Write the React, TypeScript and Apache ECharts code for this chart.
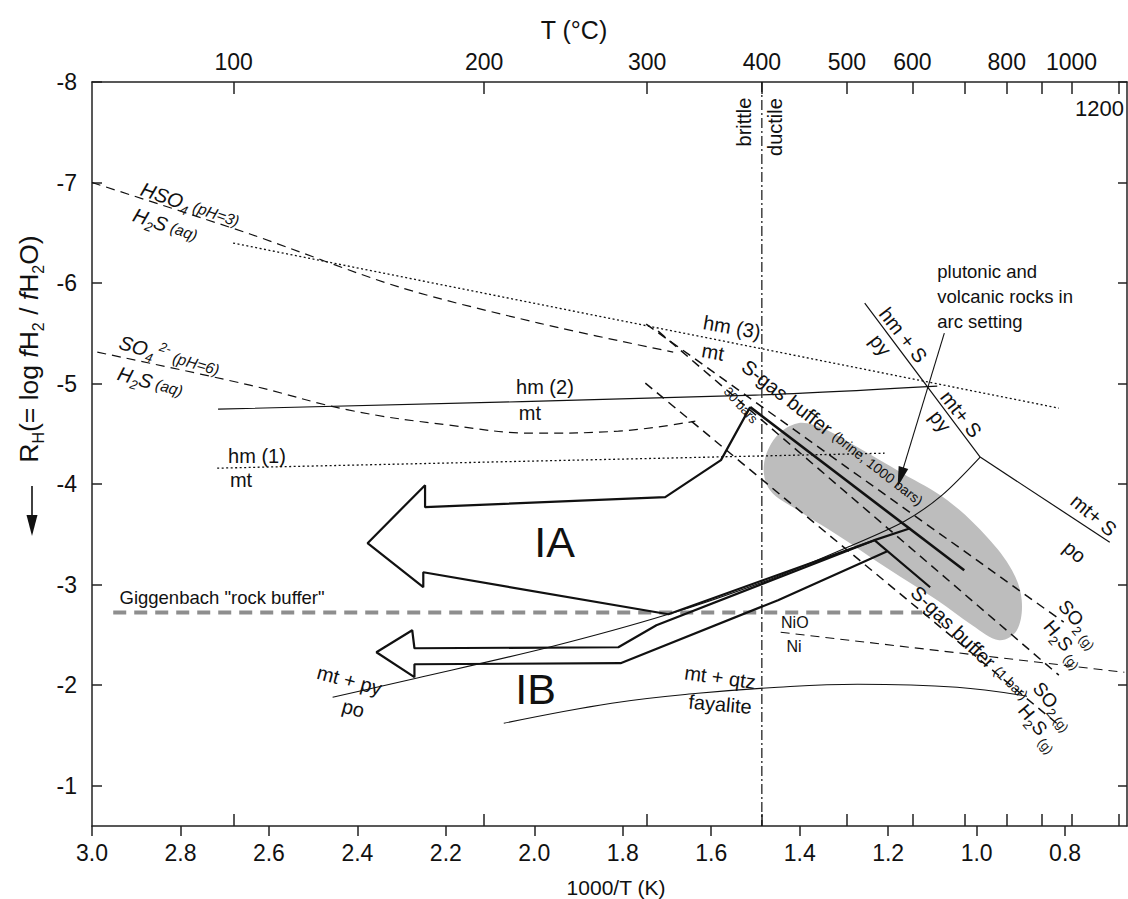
import React, { useEffect, useRef } from 'react';
import * as echarts from 'echarts';

// ---------- axes ----------
const X_MIN = 0.66;
const X_MAX = 3.0;
const Y_MIN = -8;
const Y_MAX = -0.6;
const invTLabels = [0.8, 1.0, 1.2, 1.4, 1.6, 1.8, 2.0, 2.2, 2.4, 2.6, 2.8, 3.0];
const rhTicks = [-8, -7, -6, -5, -4, -3, -2, -1];
const tempTicks = [100, 200, 300, 400, 500, 600, 700, 800, 900, 1000, 1200];
const tempLabels = [100, 200, 300, 400, 500, 600, 800, 1000];
const brittleDuctileT = 400;

// ---------- curves (x = 1000/T(K), y = RH) ----------
const hso4Ph3 = [[3.0, -7.0], [2.643, -6.488], [2.305, -5.96], [1.99, -5.602], [1.686, -5.313]];
const hm3Mt = [[2.681, -6.398], [0.814, -4.756]];
const so4Ph6 = [[2.988, -5.313], [2.643, -4.985], [2.418, -4.736], [2.193, -4.587], [1.997, -4.507], [1.81, -4.527], [1.636, -4.627]];
const hm2Mt = [[2.715, -4.746], [1.501, -4.886], [1.089, -4.975]];
const hm1Mt = [[2.717, -4.159], [1.208, -4.308]];
const mtPyPo = [[2.456, -1.881], [2.267, -2.07], [1.967, -2.378], [1.697, -2.706], [1.472, -3.045], [1.292, -3.373], [1.163, -3.632], [1.078, -3.891], [0.992, -4.269]];
const hmSPy = [[1.253, -5.801], [0.992, -4.269]];
const mtSPo = [[0.992, -4.269], [0.699, -3.423]];
const giggenbach = [[2.952, -2.723], [1.123, -2.723]];
const nioNi = [[1.443, -2.527], [0.666, -2.129]];
const mtQtzFa = [[2.069, -1.622], [1.825, -1.821], [1.63, -1.92], [1.449, -1.98], [1.269, -2.01], [1.044, -1.98], [0.886, -1.891]];
const pathIA = [[1.15, -3.562], [1.231, -3.443], [1.697, -2.706], [2.251, -3.124], [2.251, -2.975], [2.377, -3.413], [2.247, -3.99], [2.247, -3.771], [1.704, -3.871], [1.578, -4.239], [1.512, -4.766]];
const pathIB = [[1.105, -2.975], [1.231, -3.443], [1.724, -2.597], [1.81, -2.378], [2.271, -2.368], [2.276, -2.547], [2.357, -2.328], [2.271, -2.08], [2.271, -2.209], [1.805, -2.219], [1.449, -2.846], [1.202, -3.333]];
const brineSolid = [[1.512, -4.766], [1.028, -3.144]];
const sgasBrine1000 = [[1.747, -5.592], [0.803, -2.627]];
const sgasBrine30 = [[1.72, -5.522], [0.814, -2.1]];
const sgas1bar = [[1.749, -5.005], [0.819, -1.622]];
const arcField = [[1.404, -4.607], [1.454, -4.468], [1.481, -4.189], [1.467, -3.94], [1.404, -3.741], [1.314, -3.493], [1.202, -3.164], [1.089, -2.846], [1.01, -2.597], [0.949, -2.448], [0.909, -2.547], [0.898, -2.846], [0.92, -3.144], [0.976, -3.473], [1.066, -3.841], [1.168, -4.109], [1.269, -4.368], [1.348, -4.557]];
const arcPointer = [[1.073, -5.502], [1.172, -4.07]];

// ---------- annotations: [x, y, rotationDeg, text, fontSize, align] ----------
const annotations: any[] = [
  [2.778, -6.776, -19, '{i|HSO}{isub|4}{sm| (pH=3)}', 20],
  [2.834, -6.577, -19, '{i|H}{isub|2}{i|S}{sm| (aq)}', 20],
  [2.825, -5.274, -16, '{i|SO}{isub|4}{sup| 2-}{sm| (pH=6)}', 20],
  [2.868, -5.015, -16, '{i|H}{isub|2}{i|S}{sm| (aq)}', 20],
  [1.976, -4.965, 0, 'hm (2)', 20],
  [2.01, -4.706, 0, 'mt', 20],
  [2.627, -4.279, 0, 'hm (1)', 20],
  [2.663, -4.04, 0, 'mt', 20],
  [1.553, -5.562, -10, 'hm (3)', 20],
  [1.596, -5.313, -10, 'mt', 20],
  [1.325, -4.507, -38, '{big|S-gas buffer }{s13|(brine, 1000 bars)}', 20],
  [1.533, -4.786, -48, '30 bars', 13],
  [1.015, -2.418, -44, '{big|S-gas buffer }{s13|(1 bar)}', 20],
  [0.767, -2.617, -50, '{n|SO}{nsub|2 (g)}', 19],
  [0.801, -2.418, -50, '{n|H}{nsub|2}{n|S}{nsub| (g)}', 19],
  [0.825, -1.801, -50, '{n|SO}{nsub|2 (g)}', 19],
  [0.859, -1.582, -50, '{n|H}{nsub|2}{n|S}{nsub| (g)}', 19],
  [1.411, -2.627, 0, 'NiO', 16],
  [1.413, -2.388, 0, 'Ni', 16],
  [1.58, -2.08, -8, 'mt + qtz', 20],
  [1.58, -1.811, -5, 'fayalite', 20],
  [2.418, -2.05, -15, 'mt + py', 20],
  [2.409, -1.771, -15, 'po', 20],
  [1.954, -3.423, 0, 'IA', 43],
  [1.997, -1.96, 0, 'IB', 43],
  [2.706, -2.876, 0, 'Giggenbach "rock buffer"', 18.5],
  [1.526, -7.602, 90, 'brittle', 20],
  [1.456, -7.552, 90, 'ductile', 20],
  [1.089, -5.871, 0, 'plutonic and\nvolcanic rocks in\narc setting', 18.5, 'left'],
  [1.166, -5.483, -52, 'hm + S', 20],
  [1.217, -5.383, -52, 'py', 20],
  [1.035, -4.697, -52, 'mt+ S', 20],
  [1.082, -4.627, -52, 'py', 20],
  [0.735, -3.692, -40, 'mt+ S', 20],
  [0.778, -3.328, -40, 'po', 20],
  [0.667, -7.741, 0, '1200', 22, 'right'],
];

const FONT = '"Liberation Sans", Arial, Helvetica, sans-serif';
const INK = '#111';

const tok = (fontSize: number, lineHeight: number, verticalAlign: string, italic = false) => ({
  fontSize,
  lineHeight,
  verticalAlign,
  fontFamily: FONT,
  fontStyle: italic ? 'italic' : 'normal',
  fill: INK,
  color: INK,
});

const RICH = {
  i: tok(20, 27, 'middle', true),
  n: tok(19, 27, 'middle'),
  isub: tok(13, 14, 'bottom', true),
  nsub: tok(13, 14, 'bottom'),
  sup: tok(13, 13, 'top', true),
  sm: tok(15.5, 27, 'middle', true),
  big: tok(20, 27, 'middle'),
  s13: tok(14, 27, 'middle'),
};

const toX = (t: number) => 1000 / (t + 273.15);

function lineSeries(data: number[][], style: any, extra: any = {}) {
  return {
    type: 'line',
    data,
    symbol: 'none',
    silent: true,
    z: 3,
    lineStyle: { color: INK, width: 1.2, type: 'solid', ...style },
    ...extra,
  };
}

export default function App() {
  const ref = useRef<HTMLDivElement>(null);

  useEffect(() => {
    const chart = echarts.init(ref.current!, null, { renderer: 'svg' });
    const axisLine = { show: true, onZero: false, lineStyle: { color: '#222', width: 1.5 } };
    const tickStyle = { color: '#222', width: 1.5 };
    const grid = { left: 92, right: 1, top: 82, bottom: 73, containLabel: false, outerBoundsMode: 'none', show: false };

    const option: any = {
      animation: false,
      backgroundColor: '#fff',
      grid: [grid, { ...grid }],
      xAxis: [
        {
          type: 'value', gridIndex: 0, position: 'bottom', min: X_MIN, max: X_MAX, inverse: true,
          axisLine,
          axisTick: { show: true, inside: false, length: 10, lineStyle: tickStyle, customValues: invTLabels },
          axisLabel: {
            customValues: invTLabels, formatter: (v: number) => v.toFixed(1), margin: 15,
            fontSize: 23, fontFamily: FONT, color: INK,
          },
          splitLine: { show: false },
        },
        {
          type: 'value', gridIndex: 0, position: 'top', min: X_MIN, max: X_MAX, inverse: true,
          axisLine,
          axisTick: { show: true, inside: true, length: 12, lineStyle: tickStyle, customValues: tempTicks.map(toX) },
          axisLabel: {
            customValues: tempLabels.map(toX),
            formatter: (v: number) => String(Math.round((1000 / v - 273.15) / 10) * 10),
            margin: 9, fontSize: 23, fontFamily: FONT, color: INK,
          },
          splitLine: { show: false },
        },
        {
          type: 'value', gridIndex: 1, position: 'bottom', min: X_MIN, max: X_MAX, inverse: true,
          axisLine: { show: false },
          axisTick: { show: true, inside: true, length: 12, lineStyle: tickStyle, customValues: tempTicks.map(toX) },
          axisLabel: { show: false },
          splitLine: { show: false },
        },
      ],
      yAxis: [
        {
          type: 'value', gridIndex: 0, position: 'left', min: Y_MIN, max: Y_MAX, interval: 1, inverse: true,
          axisLine,
          axisTick: { show: true, inside: true, length: 10, lineStyle: tickStyle, customValues: rhTicks },
          axisLabel: {
            customValues: rhTicks, formatter: (v: number) => String(v), margin: 15,
            fontSize: 23, fontFamily: FONT, color: INK,
          },
          splitLine: { show: false },
        },
        {
          type: 'value', gridIndex: 0, position: 'right', min: Y_MIN, max: Y_MAX, interval: 1, inverse: true,
          axisLine,
          axisTick: { show: true, inside: true, length: 9, lineStyle: tickStyle, customValues: rhTicks },
          axisLabel: { show: false },
          splitLine: { show: false },
        },
        {
          type: 'value', gridIndex: 1, min: Y_MIN, max: Y_MAX, inverse: true, show: false,
        },
      ],
      graphic: [
        {
          type: 'text', x: 29, y: 349, rotation: Math.PI / 2,
          style: {
            text: '{t|R}{ts|H}{t|(= log }{ti|f}{t|H}{ts|2}{t| / }{ti|f}{t|H}{ts|2}{t|O)}',
            align: 'center', verticalAlign: 'middle', fill: INK,
            rich: {
              t: { fontSize: 26.5, lineHeight: 34, verticalAlign: 'middle', fontFamily: FONT, fill: INK },
              ti: { fontSize: 26.5, lineHeight: 34, verticalAlign: 'middle', fontFamily: FONT, fontStyle: 'italic', fill: INK },
              ts: { fontSize: 16, lineHeight: 17, verticalAlign: 'bottom', fontFamily: FONT, fill: INK },
            },
          },
        },
        { type: 'line', shape: { x1: 32, y1: 486, x2: 32, y2: 520 }, style: { stroke: INK, lineWidth: 1.6 } },
        { type: 'polygon', shape: { points: [[26.5, 515], [37.5, 515], [32, 536]] }, style: { fill: INK } },
        {
          type: 'text', x: 574, y: 30,
          style: { text: 'T (°C)', fontSize: 25, fontFamily: FONT, fill: INK, align: 'center', verticalAlign: 'middle' },
        },
        {
          type: 'text', x: 616, y: 887,
          style: { text: '1000/T (K)', fontSize: 21, fontFamily: FONT, fill: INK, align: 'center', verticalAlign: 'middle' },
        },
      ],
      series: [
        {
          type: 'custom', name: 'arc field', coordinateSystem: 'cartesian2d', xAxisIndex: 0, yAxisIndex: 0,
          data: [arcField[0]], clip: false, silent: true, z: 1,
          renderItem: (_p: any, api: any) => ({
            type: 'polygon',
            shape: { points: arcField.map((pt) => api.coord(pt)), smooth: 0.35 },
            style: { fill: '#bdbdbd', stroke: 'none' },
          }),
        },
        lineSeries(hso4Ph3, { type: [9, 6] }, { smooth: 0.3 }),
        lineSeries(hm3Mt, { type: [2, 2.5], width: 1.3 }),
        lineSeries(so4Ph6, { type: [9, 6] }, { smooth: 0.4 }),
        lineSeries(hm2Mt, { width: 1.1 }, { smooth: 0.3 }),
        lineSeries(hm1Mt, { type: [2, 2.5], width: 1.3 }),
        lineSeries(mtPyPo, { width: 1.1 }, { smooth: 0.3 }),
        lineSeries(hmSPy, { width: 1.2 }),
        lineSeries(mtSPo, { width: 1.2 }),
        lineSeries([[toX(brittleDuctileT), Y_MIN], [toX(brittleDuctileT), Y_MAX]], { type: [10, 3, 2, 3], width: 1.2 }),
        lineSeries(giggenbach, { type: [13, 8], width: 4, color: '#8e8e8e' }),
        lineSeries(nioNi, { type: [9, 6], width: 1.1 }),
        lineSeries(mtQtzFa, { width: 1.1 }, { smooth: 0.4 }),
        lineSeries(sgasBrine1000, { type: [9, 6], width: 1.5 }),
        lineSeries(sgasBrine30, { type: [9, 6], width: 1.5 }),
        lineSeries(sgas1bar, { type: [9, 6], width: 1.5 }),
        lineSeries(brineSolid, { width: 2.6 }),
        lineSeries(pathIA, { width: 2.2 }, { z: 4 }),
        lineSeries(pathIB, { width: 2.2 }, { z: 4 }),
        lineSeries(arcPointer, { opacity: 0 }, {
          markLine: {
            silent: true, symbol: ['none', 'triangle'], symbolSize: [10, 20],
            label: { show: false },
            lineStyle: { color: INK, width: 1.1, type: 'solid' },
            data: [[{ coord: arcPointer[0] }, { coord: arcPointer[1] }]],
          },
        }),
        {
          type: 'custom', name: 'labels', coordinateSystem: 'cartesian2d', xAxisIndex: 0, yAxisIndex: 0,
          data: annotations.map((a) => [a[0], a[1]]), clip: false, silent: true, z: 10,
          renderItem: (params: any, api: any) => {
            const a = annotations[params.dataIndex];
            const p = api.coord([a[0], a[1]]);
            return {
              type: 'text',
              x: p[0],
              y: p[1],
              rotation: (a[2] * Math.PI) / 180,
              style: {
                text: a[3],
                fontSize: a[4],
                fontFamily: FONT,
                fill: INK,
                align: a[5] || 'center',
                verticalAlign: 'middle',
                lineHeight: a[5] === 'left' ? 25 : undefined,
                rich: RICH,
              },
            };
          },
        },
      ],
    };
    chart.setOption(option);
    return () => chart.dispose();
  }, []);

  return (
    <div
      ref={ref}
      style={{ position: 'fixed', left: 0, top: 0, width: 1128, height: 899, background: '#fff' }}
    />
  );
}
